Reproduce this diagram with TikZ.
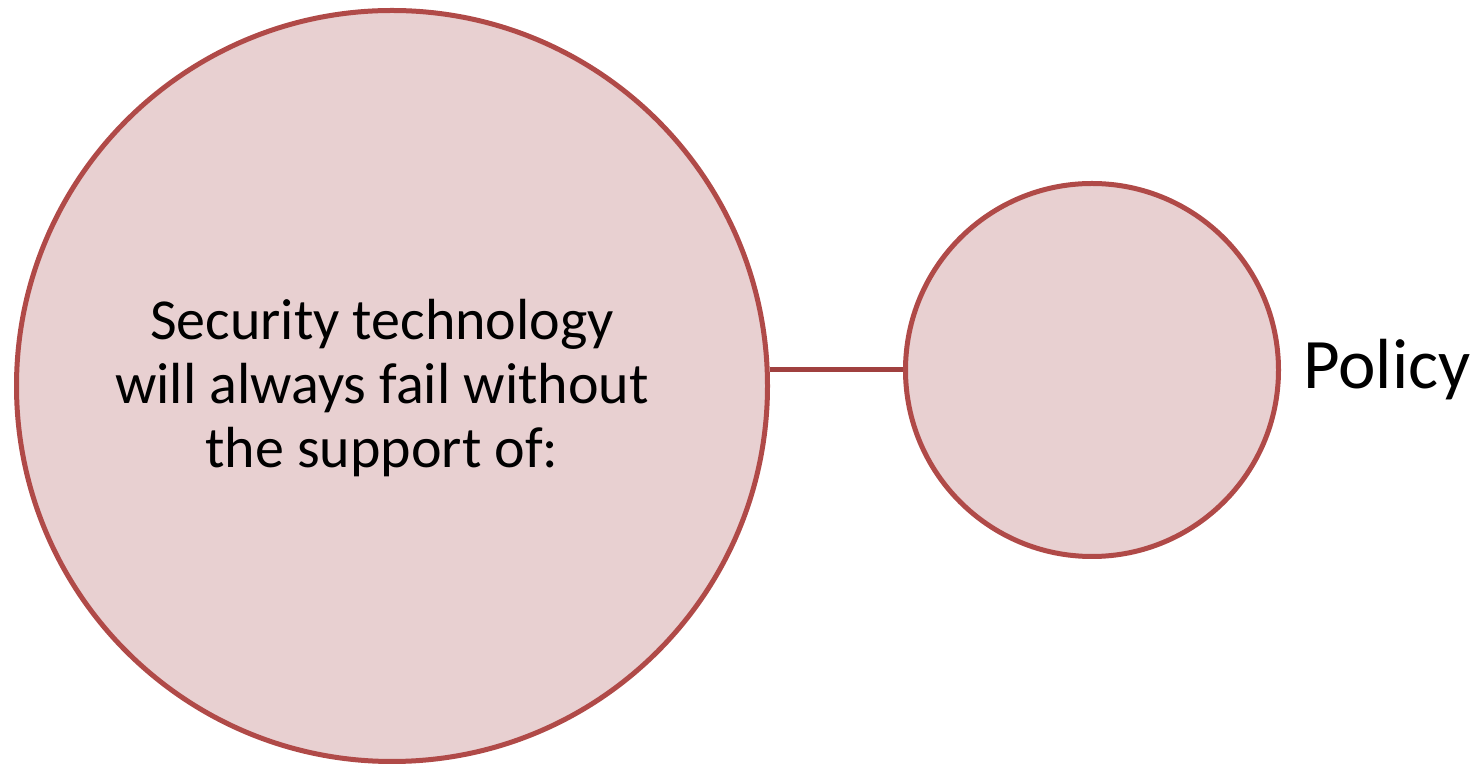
\documentclass[tikz,border=0pt]{standalone}
\usepackage{fontspec}
\setmainfont{Carlito}
\usetikzlibrary{positioning}
\definecolor{ringred}{HTML}{B04A48}
\definecolor{ringfill}{HTML}{E8D0D1}
\definecolor{linkred}{HTML}{A0403F}
\tikzset{
  ring/.style={circle, draw=ringred, fill=ringfill, line width=5pt, inner sep=0pt},
  link/.style={draw=linkred, line width=5pt}
}
\begin{document}
\begin{tikzpicture}[x=1pt,y=1pt]
\useasboundingbox (0,0) rectangle (1483,765);
\node[ring, minimum size=751pt] (tech) at (392,379) {};
\node[align=center, font=\fontsize{58}{64}\selectfont] (techtext) at ([xshift=-10pt, yshift=-2pt]tech.center)
  {Security technology\\will always fail without\\the support of:};
\node[ring, minimum size=373pt] (policy) at (1092,395) {};
\node[right=22pt of policy, inner sep=0pt, font=\fontsize{71}{80}\selectfont] (policylabel) {Policy};
\path[link] (policy.west) -- (policy.west -| tech.east);
\end{tikzpicture}
\end{document}
